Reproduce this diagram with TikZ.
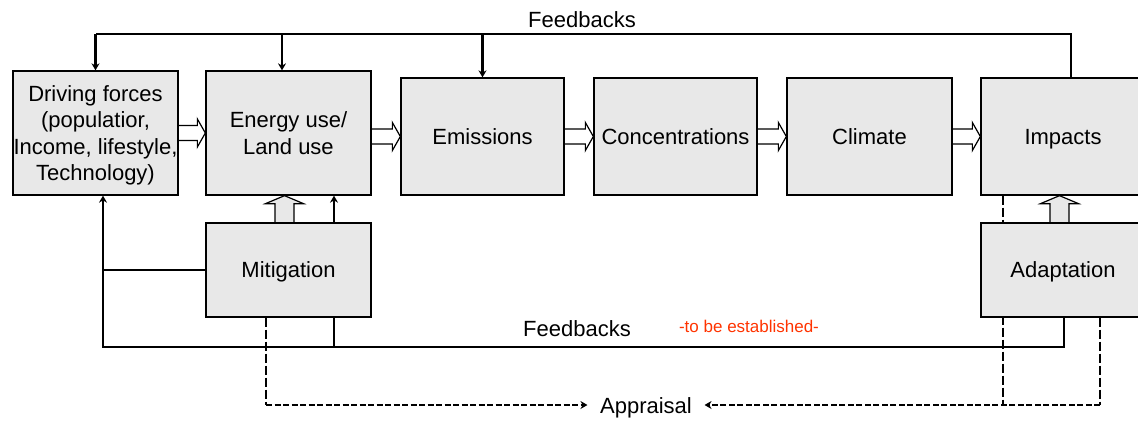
\documentclass[tikz,border=0pt]{standalone}
\usepackage{fontspec}
\setmainfont{Liberation Sans}
\usetikzlibrary{calc,arrows.meta}
\pgfdeclarelayer{bg}
\pgfsetlayers{bg,main}
\definecolor{boxgray}{RGB}{232,232,232}
\definecolor{estred}{RGB}{255,51,0}
\tikzset{
  box/.style={draw=black, fill=boxgray, line width=1.3pt, inner sep=0pt,
    font=\fontsize{22}{26.5}\selectfont, align=center, text depth=0pt},
  fb/.style={draw=black, line width=1.3pt},
  fbthick/.style={draw=black, line width=2.6pt},
  tip/.style={-{Stealth[length=7pt,width=8pt]}},
  dsh/.style={draw=black, line width=1.7pt, dash pattern=on 6pt off 2.5pt},
  dshv/.style={draw=black, line width=1.2pt, dash pattern=on 9pt off 3pt},
  harrow/.style={draw=black, fill=white, line width=1.2pt, line join=miter},
  varrow/.style={draw=black, fill=boxgray, line width=1.2pt, line join=miter},
  lbl/.style={font=\fontsize{22}{26}\selectfont, inner sep=0pt},
}
\newcommand\harr[2]{\draw[harrow] ($(#1.east|-#2.west)+(0,-7.5)$) -- ($(#2.west)+(-8,-7.5)$) -- ($(#2.west)+(-8,-14)$) -- (#2.west) -- ($(#2.west)+(-8,14)$) -- ($(#2.west)+(-8,7.5)$) -- ($(#1.east|-#2.west)+(0,7.5)$);}
\newcommand\varr[3]{\draw[varrow] ($(#1.north)+(#3-9.5,0)$) -- ($(#2.south)+(#3-9.5,8)$) -- ($(#2.south)+(#3-19,8)$) -- ($(#2.south)+(#3,0)$) -- ($(#2.south)+(#3+19,8)$) -- ($(#2.south)+(#3+9.5,8)$) -- ($(#1.north)+(#3+9.5,0)$);}
\begin{document}
\begin{tikzpicture}[x=1pt,y=-1pt]
\useasboundingbox (0,0) rectangle (1138,423);
\clip (0,0) rectangle (1138,423);
% boxes
\node[box, minimum width=165pt, minimum height=124pt] (drv) at (95.5,133) {Driving forces\\(populatior,\\Income, lifestyle,\\Technology)};
\node[box, minimum width=165pt, minimum height=124pt] (ene) at (288.5,133) {Energy use/\\Land use};
\node[box, minimum width=163pt, minimum height=117pt] (emi) at (482.5,136.5) {Emissions};
\node[box, minimum width=163pt, minimum height=117pt] (con) at (675.5,136.5) {Concentrations};
\node[box, minimum width=165pt, minimum height=117pt] (cli) at (869.5,136.5) {Climate};
\node[box, minimum width=164pt, minimum height=117pt] (imp) at (1063,136.5) {Impacts};
\node[box, minimum width=165pt, minimum height=94pt] (mit) at (288.5,270) {Mitigation};
\node[box, minimum width=164pt, minimum height=94pt] (ada) at (1063,270) {Adaptation};
% labels
\node[lbl] (fbtop) at (582,20) {Feedbacks};
\node[lbl] (fbbot) at (577,329) {Feedbacks};
\node[text=estred, font=\fontsize{17}{20}\selectfont, inner sep=0pt] (est) at (749,326) {-to be established-};
\node[lbl, inner xsep=12.5pt] (app) at (646,408) {Appraisal};
\coordinate (ftl) at (95.5,34);
\coordinate (ftr) at (1071,34);
\coordinate (fbl) at (103,347);
\coordinate (fbr) at (1064,347);
\coordinate (dl) at (266,405);
\coordinate (dr) at (1100,405);
\begin{pgfonlayer}{bg}
% block arrows
\harr{drv}{ene}
\harr{ene}{emi}
\harr{emi}{con}
\harr{con}{cli}
\harr{cli}{imp}
\varr{mit}{ene}{-4}
\varr{ada}{imp}{-3.5}
% top feedbacks
\draw[fb] ([xshift=8pt]imp.north) -- (ftr) -- (ftl);
\draw[fbthick,tip] (ftl) -- (drv.north);
\draw[fbthick,tip] ([xshift=-6.5pt]ene.north |- ftl) -- ([xshift=-6.5pt]ene.north);
\draw[fbthick,tip] (emi.north |- ftl) -- (emi.north);
% bottom feedbacks
\draw[fb] ([xshift=1pt]ada.south) -- (fbr) -- (fbl) -- (mit.west -| fbl);
\draw[fbthick,tip] (mit.west -| fbl) -- (drv.south -| fbl);
\draw[fb] (mit.west) -- (mit.west -| fbl);
\draw[fb] ([xshift=45.5pt]mit.south) -- ([xshift=45.5pt]mit.south |- fbl);
\draw[fb,tip] ([xshift=45.5pt]mit.north) -- ([xshift=45.5pt]ene.south);
% appraisal
\draw[dshv] ([xshift=-22.5pt]mit.south) -- (dl);
\draw[dsh,tip] (dl) -- (dl -| app.west);
\draw[dshv] ([xshift=37pt]ada.south) -- (dr);
\draw[dsh,tip] (dr) -- (dr -| app.east);
\draw[dshv] ([xshift=-60pt]imp.south) -- ([xshift=-60pt]imp.south |- dr);
\end{pgfonlayer}
\end{tikzpicture}
\end{document}
